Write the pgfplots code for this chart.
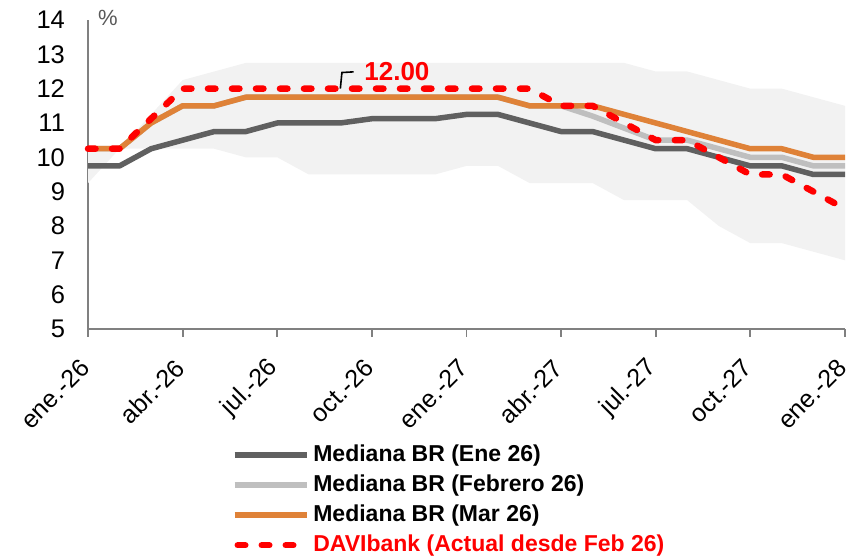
\documentclass[border=0pt]{standalone}
\usepackage{pgfplots}
\pgfplotsset{compat=1.18}
\usepackage{pgfplotstable}
\usepgfplotslibrary{fillbetween}
\usepackage{fontspec}
\setmainfont{Liberation Sans}
\definecolor{dgray}{RGB}{96,96,96}
\definecolor{lgray}{RGB}{191,191,191}
\definecolor{morange}{RGB}{223,130,56}
\definecolor{band}{RGB}{242,242,242}
\definecolor{axgray}{RGB}{128,128,128}
\definecolor{pctgray}{RGB}{89,89,89}
\pgfplotsset{shortleg/.style={legend image code/.code={\draw[##1] (1.6pt,0pt) -- (31.5pt,0pt);}}}
\pgfplotstableread{
x up lo dark feb mar davi
0 10.25 9.25 9.75 10.25 10.25 10.25
1 10.25 10.25 9.75 10.25 10.25 10.25
2 11.25 10.25 10.25 11.0 11.0 11.125
3 12.25 10.25 10.5 11.5 11.5 12.0
4 12.5 10.25 10.75 11.5 11.5 12.0
5 12.75 10.0 10.75 11.75 11.75 12.0
6 12.75 10.0 11.0 11.75 11.75 12.0
7 12.75 9.5 11.0 11.75 11.75 12.0
8 12.75 9.5 11.0 11.75 11.75 12.0
9 12.75 9.5 11.125 11.75 11.75 12.0
10 12.75 9.5 11.125 11.75 11.75 12.0
11 12.75 9.5 11.125 11.75 11.75 12.0
12 12.75 9.75 11.25 11.75 11.75 12.0
13 12.75 9.75 11.25 11.75 11.75 12.0
14 12.75 9.25 11.0 11.5 11.5 12.0
15 12.75 9.25 10.75 11.5 11.5 11.5
16 12.75 9.25 10.75 11.2 11.5 11.5
17 12.75 8.75 10.5 10.85 11.25 11.0
18 12.5 8.75 10.25 10.5 11.0 10.5
19 12.5 8.75 10.25 10.5 10.75 10.5
20 12.25 8.0 10.0 10.25 10.5 10.0
21 12.0 7.5 9.75 10.0 10.25 9.5
22 12.0 7.5 9.75 10.0 10.25 9.5
23 11.75 7.25 9.5 9.75 10.0 9.0
24 11.5 7.0 9.5 9.75 10.0 8.5
}\datatable
\begin{document}
\begin{tikzpicture}
\begin{axis}[
  scale only axis,
  width=378.5pt, height=154.5pt,
  xmin=0, xmax=24, ymin=5, ymax=14,
  axis x line=bottom, axis y line=left,
  axis line style={-, axgray, line width=0.9pt},
  xtick={0,3,...,24},
  xticklabels={ene.-26,abr.-26,jul.-26,oct.-26,ene.-27,abr.-27,jul.-27,oct.-27,ene.-28},
  ytick={5,6,...,14},
  xtick align=outside,
  major tick length=4pt,
  xtick style={axgray, line width=0.9pt},
  ytick style={draw=none},
  /pgf/number format/assume math mode=true,
  yticklabel style={font=\fontsize{12.75}{14}\selectfont, anchor=east, xshift=-6pt},
  xticklabel style={font=\fontsize{12.5}{14}\selectfont, xshift=1pt, yshift=-11pt, rotate=45, anchor=east},
  clip=false,
  legend style={at={(0.19,-0.36)}, anchor=north west, draw=none, fill=none,
    inner sep=0pt, outer sep=0pt,
    font=\fontsize{11.5}{13}\selectfont\bfseries,
    row sep=0pt, column sep=0pt,
    nodes={inner ysep=1.5pt, text height=9pt, text depth=3pt}},
  legend cell align=left,
  legend image code/.code={\draw[#1] (0pt,0pt) -- (36pt,0pt);},
]
\addplot[draw=none, name path=up, forget plot] table[x=x, y=up] {\datatable};
\addplot[draw=none, name path=lo, forget plot] table[x=x, y=lo] {\datatable};
\addplot[band, draw=none, forget plot] fill between[of=up and lo];
\addplot[dgray, line width=2.75pt, line join=round] table[x=x, y=dark] {\datatable};
\addlegendentry{Mediana BR (Ene 26)}
\addplot[lgray, line width=2.75pt, line join=round] table[x=x, y=feb] {\datatable};
\addlegendentry{Mediana BR (Febrero 26)}
\addplot[morange, line width=2.75pt, line join=round] table[x=x, y=mar] {\datatable};
\addlegendentry{Mediana BR (Mar 26)}
\addplot[red, line width=3.25pt, line cap=round, line join=round, dash pattern=on 3.75pt off 8.25pt, shortleg] table[x=x, y=davi] {\datatable};
\addlegendentry{\textcolor{red}{DAVIbank (Actual desde Feb 26)}}
\draw[black, line width=0.8pt] (axis cs:8.0,12.0) -- (axis cs:8.05,12.47) -- (axis cs:8.42,12.49);
\node[anchor=west, inner sep=0pt, text=red, font=\fontsize{13}{15}\selectfont\bfseries] at (axis cs:8.75,12.49) {12.00};
\node[text=pctgray, font=\fontsize{11}{12}\selectfont, inner sep=0pt] at (axis cs:0.63,14.07) {\%};
\end{axis}
\pgfresetboundingbox
\path[use as bounding box] ([xshift=-44pt,yshift=-113pt]current axis.south west) rectangle ([xshift=9.5pt,yshift=10pt]current axis.north east);
\end{tikzpicture}
\end{document}
